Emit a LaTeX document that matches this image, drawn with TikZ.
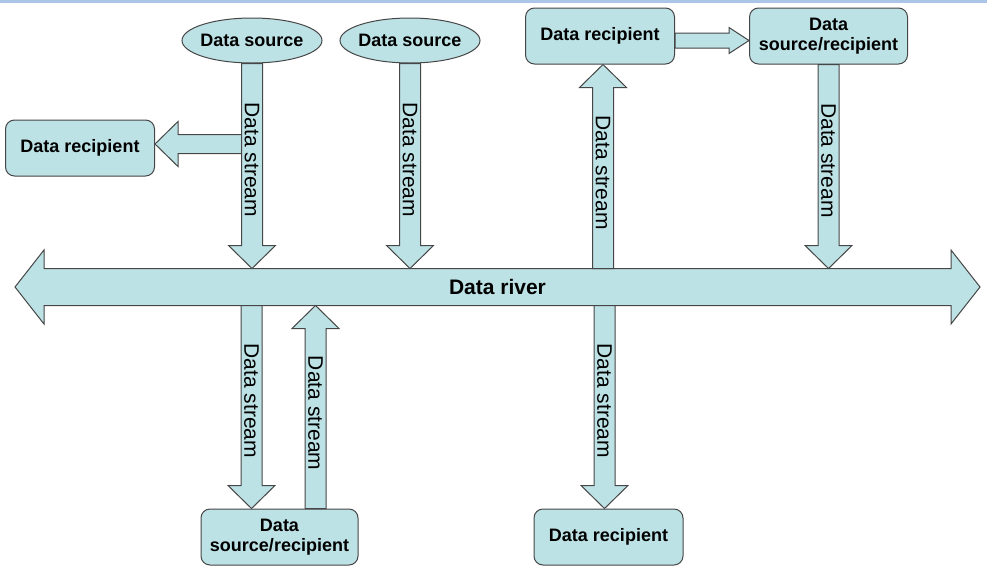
\documentclass[tikz,border=0pt]{standalone}
\usepackage{fontspec}
\setmainfont{Liberation Sans}
\usepackage{xcolor}
\usepackage{tikz}
\usetikzlibrary{positioning,calc,shapes.geometric,backgrounds}
\definecolor{riverfill}{RGB}{189,226,229}
\definecolor{edgegray}{RGB}{70,70,70}
\definecolor{rulerblue}{RGB}{170,197,232}
\newcommand{\boxfont}{\fontsize{18}{20}\selectfont\bfseries}
\newcommand{\riverfont}{\fontsize{21}{24}\selectfont\bfseries}
\newcommand{\streamfont}{\fontsize{21}{24}\selectfont}
\tikzset{
  source/.style={ellipse, draw=edgegray, fill=riverfill, line width=1pt, minimum width=140pt, minimum height=45pt, inner ysep=0pt, inner xsep=-3pt, font=\boxfont},
  recip/.style={draw=edgegray, fill=riverfill, rounded corners=9pt, line width=1pt, minimum width=149pt, minimum height=56pt, align=center, font=\boxfont},
  rivername/.style={minimum width=907pt, minimum height=37pt, inner sep=0pt, outer sep=0pt, font=\riverfont},
  streambody/.style={draw=edgegray, fill=riverfill, line width=1pt, line join=miter},
  streamlabel/.style={rotate=-90, inner sep=0pt, font=\streamfont}
}
% block arrow from #2 to #3: shaft half width / head half width / head length
\newcommand{\flowarrow}[4][10.5/23.5/23]{%
  \foreach \shaft/\head/\headlen in {#1}{%
    \draw[streambody] let \p1=(#2), \p2=(#3),
        \n1={atan2(\y2-\y1,\x2-\x1)}, \n2={veclen(\x2-\x1,\y2-\y1)} in
      [shift={(\p1)}, rotate=\n1]
      (0,-\shaft) -- (\n2-\headlen,-\shaft) -- (\n2-\headlen,-\head) -- (\n2,0)
      -- (\n2-\headlen,\head) -- (\n2-\headlen,\shaft) -- (0,\shaft) -- cycle;
  }%
  \if\relax\detokenize{#4}\relax\else
    \path (#2) -- (#3) node[streamlabel, pos=0.47] {#4};
  \fi
}

\begin{document}
\begin{tikzpicture}[x=1pt, y=-1pt]
  \useasboundingbox (0,0) rectangle (987,576);
  \fill[rulerblue] (0,0) rectangle (987,3);

  \node[source] (src1) at (252,40.5) {Data source};
  \node[source, right=17pt of src1] (src2) {Data source};
  \node[recip] (rectop) at (600,36) {Data recipient};
  \node[recip, minimum width=158pt, right=74pt of rectop] (srtop) {Data\\source/recipient};
  \node[recip] (reclt) at (80,148) {Data recipient};
  \node[recip, minimum width=157pt] (srbot) at (279.5,537) {Data\\source/recipient};
  \node[recip] (recbot) at (608.5,537) {Data recipient};

  % the river
  \node[rivername] (river) at (497.5,287) {Data river};
  \begin{scope}[on background layer]
    \draw[streambody] (river.north west) -- (river.north east) -- ++(0,-18.5) -- ++(29,37)
      -- ++(-29,37) -- ++(0,-18.5) -- (river.south west) -- ++(0,18.5) -- ++(-29,-37)
      -- ++(29,-37) -- cycle;
  \end{scope}

  \coordinate (fork) at (src1.south |- reclt.east);
  \coordinate (up1) at ([xshift=3pt]rectop.south);
  \coordinate (dn1) at ([xshift=-28pt]srbot.north);
  \coordinate (up2) at ([xshift=36pt]srbot.north);
  \coordinate (dn2) at ([xshift=-4pt]recbot.north);

  \flowarrow[9.5/22.5/23]{[yshift=4pt]fork}{[yshift=4pt]reclt.east}{}
  \flowarrow{src1.south}{src1.south |- river.north}{Data stream}
  \flowarrow{src2.south}{src2.south |- river.north}{Data stream}
  \flowarrow{up1 |- river.north}{up1}{Data stream}
  \flowarrow[7.5/13/20]{[yshift=-4.5pt]rectop.east}{[yshift=-4.5pt]srtop.west}{}
  \flowarrow{srtop.south}{srtop.south |- river.north}{Data stream}
  \flowarrow{dn1 |- river.south}{dn1}{Data stream}
  \flowarrow{up2}{up2 |- river.south}{Data stream}
  \flowarrow{dn2 |- river.south}{dn2}{Data stream}
\end{tikzpicture}
\end{document}
